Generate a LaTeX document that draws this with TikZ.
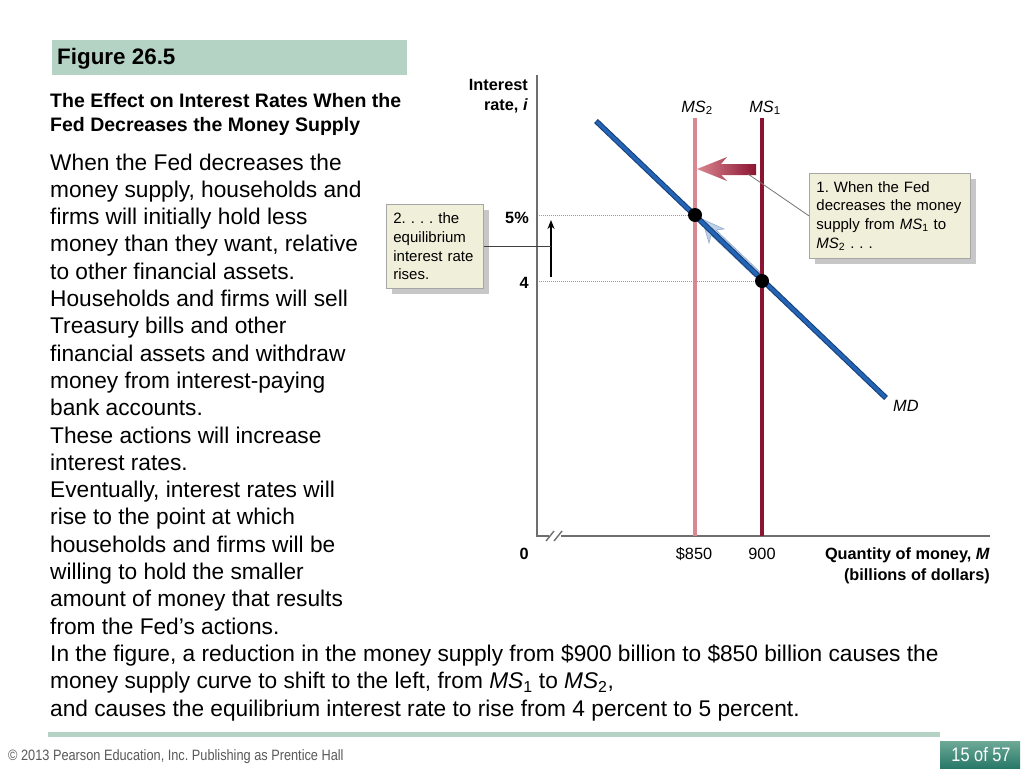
\documentclass[tikz,border=0pt]{standalone}
\usepackage{fontspec}
\setmainfont{Liberation Sans}
\usetikzlibrary{arrows.meta}
\frenchspacing
\definecolor{banner}{RGB}{181,211,196}
\definecolor{msA}{RGB}{140,20,50}
\definecolor{msB}{RGB}{218,135,145}
\definecolor{mdblue}{RGB}{35,100,180}
\definecolor{mddark}{RGB}{20,60,120}
\definecolor{calloutfill}{RGB}{239,239,218}
\definecolor{axisgray}{RGB}{110,110,110}
\definecolor{pagetop}{RGB}{110,170,150}
\definecolor{pagebot}{RGB}{40,120,105}
\definecolor{paleblue}{RGB}{185,205,230}
\definecolor{paleedge}{RGB}{140,165,200}
\tikzset{
  body/.style={anchor=base west, inner sep=0pt, font=\fontsize{22.7}{27}\selectfont},
  gbold/.style={inner sep=0pt, font=\fontsize{16.3}{19}\selectfont\bfseries},
  gnorm/.style={inner sep=0pt, font=\fontsize{16.3}{19}\selectfont},
  callout/.style={draw=gray!70, line width=0.8pt, fill=calloutfill, align=left,
    inner ysep=0pt, font=\fontsize{15}{18.7}\selectfont},
  shadowbox/.style={fill=black!22},
  axis/.style={draw=axisgray, line width=1.8pt},
  guide/.style={draw=gray!80, densely dotted, line width=1pt},
  dot/.style={circle, fill=black, inner sep=0pt, minimum size=14pt},
}
\begin{document}
\begin{tikzpicture}[x=1pt,y=-1pt]
\useasboundingbox[fill=white] (0,0) rectangle (1024,768);

% banner
\fill[banner] (52,40) rectangle (407,75);
\node[anchor=base west, inner sep=0pt, font=\fontsize{22.4}{26}\selectfont\bfseries] (fig) at (57,64) {Figure 26.5};

% title
\node[anchor=base west, inner sep=0pt, font=\fontsize{19.5}{24}\selectfont\bfseries] (t1) at (50,107) {The Effect on Interest Rates When the};
\node[anchor=base west, inner sep=0pt, font=\fontsize{19.5}{24}\selectfont\bfseries] (t2) at (50,131) {Fed Decreases the Money Supply};

% body text
\foreach \t [count=\k from 0] in {
  {When the Fed decreases the},
  {money supply, households and},
  {firms will initially hold less},
  {money than they want, relative},
  {to other financial assets.},
  {Households and firms will sell},
  {Treasury bills and other},
  {financial assets and withdraw},
  {money from interest-paying},
  {bank accounts.},
  {These actions will increase},
  {interest rates.},
  {Eventually, interest rates will},
  {rise to the point at which},
  {households and firms will be},
  {willing to hold the smaller},
  {amount of money that results},
  {from the Fed’s actions.},
  {In the figure, a reduction in the money supply from \$900 billion to \$850 billion causes the},
  {money supply curve to shift to the left, from \textit{MS}\textsubscript{1} to \textit{MS}\textsubscript{2},},
  {and causes the equilibrium interest rate to rise from 4 percent to 5 percent.}}
  \node[body] (b\k) at (50,{170+27.3*\k}) {\t};

% axes
\coordinate (ytop) at (537,75);
\coordinate (o) at (537,536);
\coordinate (xend) at (990,536);
\draw[axis] (ytop) -- (o) -- (xend);
\fill[white] (549,531) rectangle (561,541);
\draw[axisgray, line width=1.4pt] (546,541) -- (554,531);
\draw[axisgray, line width=1.4pt] (554,541) -- (562,531);

% axis labels
\node[gbold, anchor=base east] (yl1) at (528,90) {Interest};
\node[gbold, anchor=base east] (yl2) at (528,110) {rate, \textit{i}};
\node[gbold, anchor=base east] (l5) at (529,223) {5\%};
\node[gbold, anchor=base east] (l4) at (529,288) {4};
\node[gbold, anchor=base east] (l0) at (529,559) {0};
\node[gnorm, anchor=base] (l850) at (694,559) {\$850};
\node[gnorm, anchor=base] (l900) at (762,559) {900};
\node[gbold, anchor=base east] (xl1) at (990,559) {Quantity of money, \textit{M}};
\node[gbold, anchor=base east] (xl2) at (990,580) {(billions of dollars)};

% money supply curves
\draw[msB, line width=4.5pt] (695,118) -- (695,536);
\draw[msA, line width=4.5pt] (762,118) -- (762,536);
\node[gnorm, anchor=base] (ms2) at (697,112) {\textit{MS}\textsubscript{2}};
\node[gnorm, anchor=base] (ms1) at (765,112) {\textit{MS}\textsubscript{1}};

% shift arrow
\shade[left color=msB, right color=msA] (697,169) -- (727,157) -- (721,164) -- (756,164) -- (756,175) -- (721,175) -- (727,181) -- cycle;
\coordinate (shiftpt) at (748,174);

% pale movement arrow (drawn as outlined shape along MD)
\filldraw[fill=paleblue, draw=paleedge, line width=0.6pt, opacity=0.9]
  (702,219) -- (724,229) -- (716,230) -- (760,272) -- (755,277) -- (711,235) -- (709,243) -- cycle;

% money demand
\draw[mddark, line width=5.5pt] (596,121) -- (886,398);
\draw[mdblue, line width=3.5pt] (596.6,121.6) -- (885.4,397.4);
\node[gnorm, anchor=base west] (md) at (893,411) {\textit{MD}};

% equilibria
\node[dot] (e2) at (695,215) {};
\node[dot] (e1) at (762,281) {};
\coordinate (y5) at (539,215);
\coordinate (y4) at (539,281);
\draw[guide] (y5) -- (e2.west);
\draw[guide] (y4) -- (e1.west);

% callout 1
\fill[shadowbox] (815,179) rectangle (976,264);
\node[callout, anchor=north west, text width=147pt, inner xsep=7pt, minimum height=85pt] (c1) at (809,173)
  {1. When the Fed\\decreases the money\\supply from \textit{MS}\textsubscript{1} to\\\textit{MS}\textsubscript{2} . . .};
\draw[gray!90!black, line width=0.8pt] (c1.west) -- (shiftpt);

% callout 2
\fill[shadowbox] (392,210) rectangle (489,294);
\node[callout, anchor=north west, text width=83pt, inner xsep=7pt, minimum height=84pt] (c2) at (386,204)
  {2. . . . the\\equilibrium\\interest rate\\rises.};
\coordinate (rise4) at (551,277);
\coordinate (rise5) at (551,220);
\draw[black, line width=1.6pt, -{Stealth[length=9pt,width=7pt]}] (rise4) -- (rise5);
\draw[black!75, line width=0.9pt] (c2.east) -- (c2.east -| rise4);

% footer
\fill[banner] (48,732) rectangle (940,737);
\node[anchor=base west, inner sep=0pt, text=black!65] (copy) at (8,760)
  {\scalebox{0.85}[1]{\fontsize{15}{18}\selectfont © 2013 Pearson Education, Inc. Publishing as Prentice Hall}};
\shade[top color=pagetop, bottom color=pagebot] (940,741) rectangle (1020,768);
\node[text=white, inner sep=0pt] (page) at (981,755)
  {\scalebox{0.84}[1]{\fontsize{19.5}{22}\selectfont 15 of 57}};
\end{tikzpicture}
\end{document}
